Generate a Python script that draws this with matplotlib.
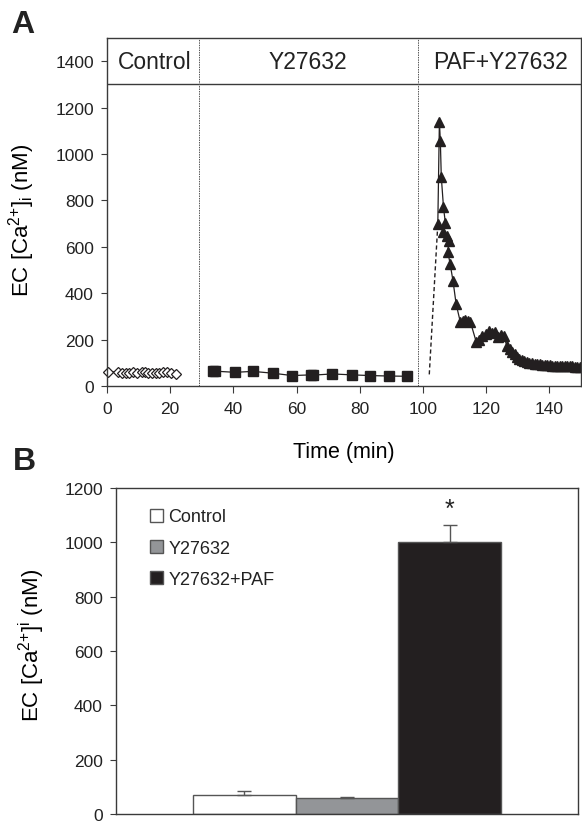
import numpy as np
import matplotlib
matplotlib.use("Agg")
import matplotlib.pyplot as plt
from matplotlib.patches import Patch

plt.rcParams.update({
    "font.family": ["Liberation Sans", "DejaVu Sans"],
    "mathtext.fontset": "custom",
    "mathtext.rm": "Liberation Sans",
    "mathtext.it": "Liberation Sans",
    "font.size": 12,
    "axes.linewidth": 1.0,
    "axes.edgecolor": "#3a3a3a",
    "xtick.color": "#3a3a3a",
    "ytick.color": "#3a3a3a",
    "xtick.labelcolor": "#222222",
    "ytick.labelcolor": "#222222",
    "xtick.labelsize": 12.5,
    "ytick.labelsize": 12.5,
    "xtick.major.size": 5,
    "ytick.major.size": 4.5,
    "xtick.major.pad": 6,
    "ytick.major.pad": 5,
    "text.color": "#222222",
})
ink = "#231f20"

# panel A: time course
t_ctrl = [0.4, 3.4, 4.6, 5.9, 7.1, 8.3, 9.4, 11.0, 12.0, 13.1, 14.2, 15.4, 16.5, 17.8, 18.9, 20.3, 21.9]
v_ctrl = [60, 62, 58, 57, 58, 59, 58, 60, 62, 58, 57, 56, 58, 59, 60, 57, 52]

t_y27 = [33.6, 34.2, 40.5, 46.2, 52.6, 58.6, 64.6, 65.3, 71.3, 77.6, 83.3, 89.3, 95.0]
v_y27 = [66, 64, 59, 63, 55, 45, 48, 47, 52, 48, 45, 43, 42]

t_paf = [104.7, 105.2, 105.5, 105.8, 106.5, 107.1, 106.5, 107.6, 108.1, 107.9,
         108.6, 109.5, 110.5, 111.8, 112.6, 113.4, 114.2, 115.0, 116.9, 117.8,
         118.7, 119.8, 120.8, 121.8, 122.9, 123.9, 124.7, 125.5, 126.6, 127.4,
         128.2, 129.0, 129.7, 130.5, 131.3, 132.1, 132.9, 133.7, 134.5, 135.3,
         136.1, 136.9, 137.7, 138.5, 139.3, 140.1, 140.9, 141.7, 142.5, 143.3,
         144.1, 144.9, 145.7, 146.5, 147.3, 148.1, 148.9, 149.7]
v_paf = [698, 1139, 1057, 902, 770, 702, 662, 648, 626, 576,
         526, 454, 353, 277, 280, 284, 280, 277, 188, 200,
         214, 225, 238, 230, 231, 210, 220, 214, 174, 160,
         148, 136, 126, 118, 112, 107, 103, 100, 98, 96,
         95, 93, 92, 91, 90, 89, 88, 88, 87, 87,
         86, 86, 85, 85, 85, 84, 84, 84]

t_gap = [102.0, 104.7]
v_gap = [50, 698]

dividers = [29, 98.5]
phase_names = ["Control", "Y27632", "PAF+Y27632"]
phase_x = [15, 63.5, 124.5]

# panel B: bars
groups = ["Control", "Y27632", "Y27632+PAF"]
means = [70, 58, 1000]
errs = [16, 5, 65]
fills = ["white", "#939598", ink]

fig = plt.figure(figsize=(5.82, 8.28), dpi=100)

axA = fig.add_axes([0.1838, 0.5326, 0.8144, 0.4203])
axA.plot(t_ctrl, v_ctrl, color=ink, lw=0.8, marker="D", ms=5.5,
         mfc="white", mec=ink, mew=0.9, clip_on=False)
axA.plot(t_y27, v_y27, color=ink, lw=0.9, marker="s", ms=6.5, mfc=ink, mec=ink)
axA.plot(t_gap, v_gap, color=ink, lw=1.0, ls=(0, (3, 2)))
axA.plot(t_paf, v_paf, color=ink, lw=0.9, marker="^", ms=7, mfc=ink, mec=ink,
         clip_on=False)
axA.axhline(1300, color="#3a3a3a", lw=1.0)
for d in dividers:
    axA.axvline(d, color="#555555", lw=0.7, ls=(0, (1.5, 1)))
for name, x in zip(phase_names, phase_x):
    axA.text(x, 1400, name, ha="center", va="center", fontsize=16.5)
axA.set_xlim(0, 150)
axA.set_ylim(0, 1500)
axA.set_xticks(np.arange(0, 141, 20))
axA.set_yticks(np.arange(0, 1401, 200))
axA.set_xlabel("Time (min)", fontsize=15.5, labelpad=18)
axA.set_ylabel("EC [Ca$^{2{+}}$]$_{i}$ (nM)", fontsize=16)
axA.yaxis.set_label_coords(-0.148, 0.48)

axB = fig.add_axes([0.1993, 0.0157, 0.7938, 0.3937])
pos = np.arange(1, len(means) + 1)
axB.bar(pos, means, width=1.0, color=fills, edgecolor="#555555", lw=1.0)
axB.errorbar(pos, means, yerr=[np.zeros(len(errs)), errs], fmt="none",
             ecolor="#555555", elinewidth=1.0, capsize=5, capthick=1.0)
axB.text(pos[2], means[2] + errs[2] + 15, "*", ha="center", va="bottom", fontsize=18)
axB.set_xlim(-0.25, 4.25)
axB.set_ylim(0, 1200)
axB.set_xticks([])
axB.set_yticks(np.arange(0, 1201, 200))
axB.set_ylabel("EC [Ca$^{2{+}}$]$^{i}$ (nM)", fontsize=16)
axB.yaxis.set_label_coords(-0.15, 0.52)
handles = [Patch(facecolor=c, edgecolor="#555555", lw=1.0) for c in fills]
axB.legend(handles, groups, loc="upper left", bbox_to_anchor=(0.055, 0.965),
           frameon=False, fontsize=13, handlelength=0.7, handleheight=0.75,
           handletextpad=0.3, labelspacing=0.78, borderpad=0)

fig.text(0.02, 0.988, "A", fontsize=23, fontweight="bold", va="top")
fig.text(0.022, 0.46, "B", fontsize=23, fontweight="bold", va="top")

fig.savefig("out.png", dpi=100)
